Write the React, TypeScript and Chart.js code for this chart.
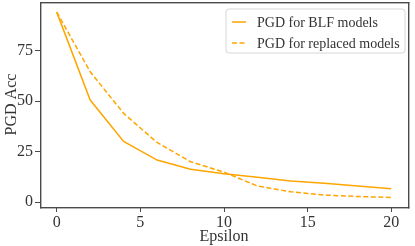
import React, { useEffect, useRef } from "react";
import { Chart, registerables } from "chart.js";

Chart.register(...registerables);

const epsilons = [0, 2, 4, 6, 8, 10, 12, 14, 16, 18, 20];
const blfAcc = [94, 50.5, 30, 20.8, 16.3, 14, 12.3, 10.5, 9.3, 8, 6.6];
const replacedAcc = [94, 64.5, 43.9, 29.5, 20, 14.8, 8, 5.1, 3.5, 2.8, 2.3];
const xTicks = [0, 5, 10, 15, 20];
const yTicks = [0, 25, 50, 75];
const seriesLabels = ["PGD for BLF models", "PGD for replaced models"];

const FONT = "'Liberation Serif', 'Times New Roman', serif";
const ORANGE = "#FFA500";
const AXIS = "#4a4a4a";

export default function App() {
  const ref = useRef<HTMLCanvasElement | null>(null);

  useEffect(() => {
    document.body.style.margin = "0";
    const canvas = ref.current;
    if (!canvas) return;

    const framePlugin = {
      id: "frame",
      afterDraw(chart: any) {
        const { ctx, chartArea } = chart;
        const l = Math.round(chartArea.left);
        const t = Math.round(chartArea.top);
        const r = Math.round(chartArea.right);
        const b = Math.round(chartArea.bottom);
        ctx.save();
        ctx.fillStyle = AXIS;
        const lw = 1.4;
        ctx.fillRect(l, t, r - l + lw, lw);
        ctx.fillRect(l, b, r - l + lw, lw);
        ctx.fillRect(l, t, lw, b - t + lw);
        ctx.fillRect(r, t, lw, b - t + lw);
        ctx.restore();
      },
    };

    const legendPlugin = {
      id: "innerLegend",
      afterDraw(chart: any) {
        const { ctx, chartArea } = chart;
        const w = 179;
        const h = 44;
        const x = chartArea.right - 3 - w;
        const y = chartArea.top + 7;
        ctx.save();
        ctx.beginPath();
        const r = 3;
        ctx.moveTo(x + r, y);
        ctx.lineTo(x + w - r, y);
        ctx.quadraticCurveTo(x + w, y, x + w, y + r);
        ctx.lineTo(x + w, y + h - r);
        ctx.quadraticCurveTo(x + w, y + h, x + w - r, y + h);
        ctx.lineTo(x + r, y + h);
        ctx.quadraticCurveTo(x, y + h, x, y + h - r);
        ctx.lineTo(x, y + r);
        ctx.quadraticCurveTo(x, y, x + r, y);
        ctx.closePath();
        ctx.fillStyle = "rgba(255,255,255,0.85)";
        ctx.fill();
        ctx.strokeStyle = "#d6d6d6";
        ctx.lineWidth = 1;
        ctx.stroke();

        chart.data.datasets.forEach((ds: any, i: number) => {
          const cy = y + 13 + i * 21;
          ctx.beginPath();
          ctx.strokeStyle = ds.borderColor;
          ctx.lineWidth = 1.5;
          ctx.setLineDash(ds.borderDash || []);
          ctx.moveTo(x + 6, cy);
          ctx.lineTo(x + 20, cy);
          ctx.stroke();
          ctx.setLineDash([]);
          ctx.fillStyle = "#333";
          ctx.font = `14px ${FONT}`;
          ctx.textBaseline = "middle";
          ctx.textAlign = "left";
          ctx.fillText(ds.label, x + 31, cy + 1);
        });
        ctx.restore();
      },
    };

    const chart = new Chart(canvas, {
      type: "line",
      data: {
        datasets: [
          {
            label: seriesLabels[0],
            data: epsilons.map((e, i) => ({ x: e, y: blfAcc[i] })),
            borderColor: ORANGE,
            borderWidth: 1.5,
            pointRadius: 0,
            fill: false,
            tension: 0,
          },
          {
            label: seriesLabels[1],
            data: epsilons.map((e, i) => ({ x: e, y: replacedAcc[i] })),
            borderColor: ORANGE,
            borderWidth: 1.5,
            borderDash: [5, 2.5],
            pointRadius: 0,
            fill: false,
            tension: 0,
          },
        ],
      },
      plugins: [legendPlugin, framePlugin],
      options: {
        animation: false,
        responsive: false,
        events: [],
        layout: { padding: { top: 2, right: 7, left: 0, bottom: 0 } },
        plugins: {
          legend: { display: false },
          tooltip: { enabled: false },
        },
        scales: {
          x: {
            type: "linear",
            min: -1,
            max: 21,
            afterBuildTicks(scale: any) {
              scale.ticks = xTicks.map((v) => ({ value: v }));
            },
            afterFit(scale: any) {
              scale.height = 39;
              scale.paddingLeft = 0;
              scale.paddingRight = 0;
            },
            grid: {
              display: true,
              drawOnChartArea: false,
              drawTicks: true,
              tickLength: 5,
              color: AXIS,
            },
            border: { display: false },
            ticks: {
              color: "#333",
              font: { family: FONT, size: 16 },
              padding: 1,
              maxRotation: 0,
            },
            title: {
              display: true,
              text: "Epsilon",
              color: "#333",
              font: { family: FONT, size: 16 },
              padding: { top: 0, bottom: 0 },
            },
          },
          y: {
            type: "linear",
            min: -2.4,
            max: 99,
            afterBuildTicks(scale: any) {
              scale.ticks = yTicks.map((v) => ({ value: v }));
            },
            afterFit(scale: any) {
              scale.width = 40;
              scale.paddingTop = 0;
              scale.paddingBottom = 0;
            },
            grid: {
              display: true,
              drawOnChartArea: false,
              drawTicks: true,
              tickLength: 5,
              color: AXIS,
            },
            border: { display: false },
            ticks: {
              color: "#333",
              font: { family: FONT, size: 16 },
              padding: 2,
            },
            title: {
              display: true,
              text: "PGD Acc",
              color: "#333",
              font: { family: FONT, size: 16 },
              padding: { top: 2, bottom: 0 },
            },
          },
        },
      },
    });

    return () => chart.destroy();
  }, []);

  return <canvas ref={ref} width={415} height={246} style={{ display: "block" }} />;
}
